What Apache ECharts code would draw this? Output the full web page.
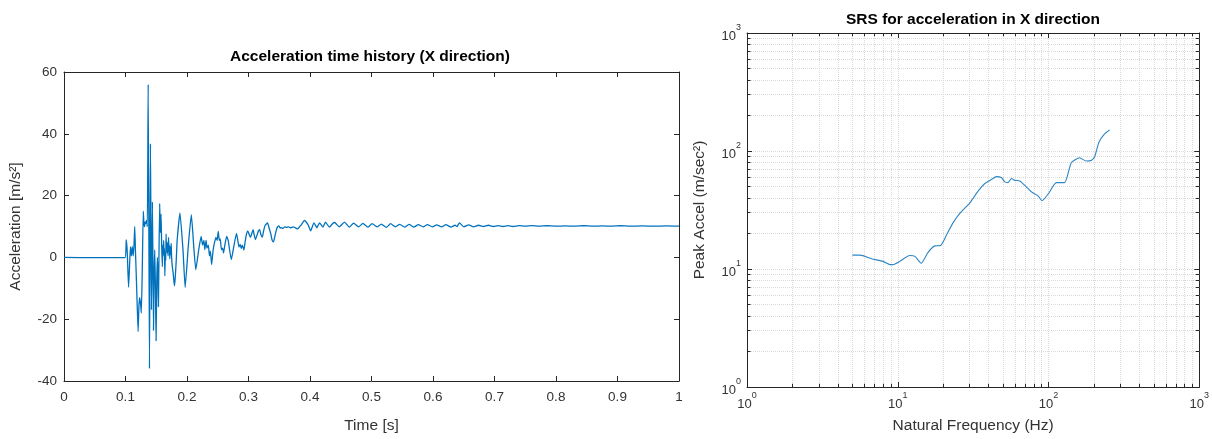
<!DOCTYPE html>
<html><head><meta charset="utf-8">
<script src="https://cdn.jsdelivr.net/npm/echarts@6/dist/echarts.min.js"></script>
<style>html,body{margin:0;padding:0;background:#fff}#c{width:1212px;height:439px}</style>
</head><body><div id="c"></div>
<script>
// ---- Left chart: acceleration time history (X direction) ----
const timeS = [
  0, 0.05, 0.099, 0.1012, 0.1025, 0.1035, 0.105, 0.1065, 0.108, 0.1095, 0.111, 0.1125, 0.1138, 0.115,
  0.1162, 0.117, 0.1185, 0.1205, 0.1218, 0.123, 0.1245, 0.1257, 0.1272, 0.1289, 0.130, 0.131, 0.132,
  0.133, 0.1343, 0.1355, 0.1369, 0.139, 0.1406, 0.1422, 0.1438, 0.1455, 0.1466, 0.1476, 0.1487, 0.1497,
  0.1508, 0.1519, 0.1527, 0.1535, 0.1545, 0.1556, 0.1565, 0.1578, 0.1588, 0.1599, 0.1607, 0.1613, 0.162,
  0.1627, 0.1633, 0.164, 0.1648, 0.1655, 0.166, 0.1667, 0.1673, 0.168, 0.1687, 0.1693, 0.170, 0.1707,
  0.1713, 0.172, 0.1728, 0.1735, 0.1743, 0.175, 0.176, 0.1775, 0.1795, 0.1807, 0.1825, 0.184, 0.1885,
  0.1935, 0.197, 0.202, 0.207, 0.211, 0.2143, 0.219, 0.223, 0.2253, 0.2275, 0.229, 0.231, 0.2325, 0.2347,
  0.2365, 0.238, 0.2401, 0.242, 0.2433, 0.245, 0.247, 0.249, 0.2508, 0.2525, 0.254, 0.256, 0.258, 0.2594,
  0.2615, 0.2645, 0.267, 0.272, 0.276, 0.2805, 0.283, 0.2845, 0.2865, 0.2882, 0.290, 0.2925, 0.2945,
  0.2968, 0.2989, 0.301, 0.3032, 0.305, 0.3075, 0.309, 0.3112, 0.3135, 0.316, 0.3182, 0.320, 0.3225,
  0.3245, 0.3267, 0.329, 0.331, 0.3335, 0.3363, 0.3385, 0.3406, 0.3425, 0.3449, 0.347, 0.3492, 0.3515,
  0.3535, 0.356, 0.359, 0.362, 0.365, 0.368, 0.3727, 0.376, 0.3797, 0.383, 0.3861, 0.3909, 0.3968,
  0.4011, 0.4064, 0.4112, 0.4155, 0.4209, 0.4251, 0.4316, 0.4369, 0.440, 0.4475, 0.456, 0.464, 0.471,
  0.479, 0.486, 0.494, 0.501, 0.509, 0.516, 0.524, 0.531, 0.539, 0.546, 0.554, 0.561, 0.569, 0.576,
  0.584, 0.591, 0.599, 0.606, 0.614, 0.621, 0.629, 0.636, 0.639, 0.643, 0.650, 0.658, 0.666, 0.674,
  0.682, 0.690, 0.698, 0.706, 0.714, 0.722, 0.730, 0.740, 0.750, 0.760, 0.772, 0.785, 0.800, 0.815,
  0.830, 0.845, 0.860, 0.875, 0.890, 0.905, 0.920, 0.940, 0.960, 0.980, 1.0
];
const accelX = [
  0, -0.1, -0.1, 5.7, 3, -2, -9.6, -3, 3.4, 0.5, 3.5, 0.5, 4, 10,
  2, -2.8, -12, -24, -16, -13, -15, -18, -5, 15, 11, 10, 11.5,
  11, 12, 10, 56, -36, 36.8, -17, 18, -23.6, -5, 2.4, -10, -27,
  -8, 0, -6, -16, 2, 17.5, 8, 14, 4, -3, 4, 0.5, 5.5,
  1, 3, -6, 2, -1, 7.6, 2, 5, 1.4, 4.5, 0.5, 6.5, 2,
  4, -0.5, 3.5, 1, 4.5, 0, -2.8, -5, -9.2, -7, -1, 5.5, 14.4,
  2.4, -9.7, 3.4, 13.8, 3.5, -4, 2.4, 6.8, 4, 5.5, 2.5, 5.5, 3, 4,
  0.5, 2, -2.3, 1.5, 3.4, 5, 6.5, 5.5, 8.4, 5.5, 6, 2.5, 3, 1.4,
  4, 6.8, 5.5, -0.7, 3.4, 7.8, 5, 3.4, 4.2, 2.9, 4, 2.4, 5,
  7.6, 8.6, 7.5, 6.5, 7.5, 9.0, 7.5, 5.8, 7, 8.5, 9, 7.5, 6.6,
  8.5, 10.2, 10.8, 11.2, 9.5, 7.6, 5.5, 5, 6.5, 8.6, 9.8, 10.2, 9.5,
  9.6, 9.4, 9.9, 9.7, 9.9, 9.6, 9.9, 9.6, 9.2, 9.9, 10.6, 12, 10.6,
  8.6, 11.2, 9.6, 11.2, 9.8, 11.4, 9.8, 11.0, 11.3, 9.9, 11.4, 9.8, 11.1,
  9.9, 11.0, 9.8, 10.9, 9.9, 10.8, 9.7, 10.9, 9.9, 10.7, 9.8, 10.7, 9.8, 10.6,
  9.9, 10.6, 9.9, 10.5, 9.9, 10.6, 9.8, 10.4, 10.0, 11.2, 9.9, 10.5, 9.9, 10.4,
  10.0, 10.4, 10.0, 10.3, 10.0, 10.3, 10.0, 10.3, 10.1, 10.3, 10.1, 10.25, 10.1, 10.2,
  10.1, 10.25, 10.1, 10.2, 10.1, 10.25, 10.1, 10.2, 10.1, 10.2, 10.1
];
const timeTicks = [0, 0.1, 0.2, 0.3, 0.4, 0.5, 0.6, 0.7, 0.8, 0.9, 1];
const accelTicks = [-40, -20, 0, 20, 40, 60];

// ---- Right chart: SRS ----
const srsFreqHz = [
  5.0, 5.63, 6.7, 8.0, 8.9, 9.3, 10.3, 12.0, 13.0, 14.3, 15.8, 17.6, 19.2, 21.1, 23.3, 25.8, 30.1,
  34.1, 37.8, 41.8, 45.1, 48.7, 51.3, 53.9, 56.7, 59.7, 64.4, 71.3, 76.9, 85.2, 90.5, 100, 112.6,
  127.9, 141.6, 160.8, 177.9, 192, 202, 216, 235.5, 254
];
const srsPeakAccel = [
  13.1, 13.1, 12.2, 11.6, 10.9, 10.9, 11.6, 13.0, 12.8, 11.2, 13.7, 15.7, 15.8, 19.5, 24.7, 29.6, 36.4,
  45.7, 53.0, 57.3, 60.7, 59.6, 54.7, 54.0, 58.4, 56.4, 55.7, 49.7, 45.1, 41.7, 37.9, 43.6, 54.0,
  54.0, 79.6, 87.6, 82.2, 83, 88.8, 118.8, 139.6, 150.7
];
const logMajorTicks = [1, 10, 100, 1000];
const logMinorValues = [2,3,4,5,6,7,8,9, 20,30,40,50,60,70,80,90, 200,300,400,500,600,700,800,900];

const FONT = "'Liberation Sans', Arial, Helvetica, sans-serif";
const AXC = '#262626';
const LBL = '#333333';
const LINE = '#0072BD';
const GRIDC = '#dadada';

function boxAxis(extra) {
  return Object.assign({
    axisLine: { show: true, onZero: false, lineStyle: { color: AXC, width: 1 } },
    axisTick: { show: true, inside: true, length: 5, lineStyle: { color: AXC } },
    axisLabel: { show: false },
    splitLine: { show: false },
    silent: true
  }, extra);
}
const supLabel = v => '{b|10}{s|' + Math.round(Math.log10(v)) + '}';
const supRich = {
  b: { fontSize: 13, color: LBL, fontFamily: FONT, lineHeight: 20, verticalAlign: 'bottom' },
  s: { fontSize: 9, color: LBL, fontFamily: FONT, lineHeight: 11, verticalAlign: 'top' }
};

// minor tick marks of the log box (short segments placed through the log scales)
const lo = logMajorTicks[0], hi = logMajorTicks[logMajorTicks.length - 1];
const tickX = 1.055, tickY = 1.065;
const minorTickSegs = [];
logMinorValues.forEach(v => {
  minorTickSegs.push([{ coord: [v, lo] }, { coord: [v, lo * tickY] }]);
  minorTickSegs.push([{ coord: [v, hi] }, { coord: [v, hi / tickY] }]);
  minorTickSegs.push([{ coord: [lo, v] }, { coord: [lo * tickX, v] }]);
  minorTickSegs.push([{ coord: [hi, v] }, { coord: [hi / tickX, v] }]);
});

const chart = echarts.init(document.getElementById('c'), null, { renderer: 'canvas' });
chart.setOption({
  animation: false,
  backgroundColor: '#fff',
  title: [
    { text: 'Acceleration time history (X direction)', left: 370, top: 49, textAlign: 'center', padding: 0,
      textStyle: { fontFamily: FONT, fontSize: 15.5, fontWeight: 'bold', color: '#000' } },
    { text: 'SRS for acceleration in X direction', left: 973, top: 12, textAlign: 'center', padding: 0,
      textStyle: { fontFamily: FONT, fontSize: 15.5, fontWeight: 'bold', color: '#000' } }
  ],
  grid: [
    { left: 61, top: 72, width: 618, height: 320, containLabel: false },
    { left: 747, top: 33, width: 453, height: 357, containLabel: false }
  ],
  xAxis: [
    boxAxis({ gridIndex: 0, type: 'value', position: 'bottom', min: timeTicks[0], max: timeTicks[timeTicks.length - 1], interval: 0.1,
      axisLabel: { show: true, fontFamily: FONT, fontSize: 13.5, color: LBL, margin: 9,
        formatter: v => String(Math.round(v * 10) / 10) },
      name: 'Time [s]', nameLocation: 'middle', nameGap: 37,
      nameTextStyle: { fontFamily: FONT, fontSize: 15.5, color: LBL } }),
    boxAxis({ gridIndex: 0, type: 'value', position: 'top', min: 0, max: 1, interval: 0.1 }),
    boxAxis({ gridIndex: 1, type: 'log', logBase: 10, position: 'bottom', min: lo, max: hi,
      axisLabel: { show: true, formatter: supLabel, rich: supRich, margin: 4 },
      splitLine: { show: true, lineStyle: { color: GRIDC, type: 'dotted', width: 1 } },
      name: 'Natural Frequency (Hz)', nameLocation: 'middle', nameGap: 31,
      nameTextStyle: { fontFamily: FONT, fontSize: 15.5, color: LBL } }),
    boxAxis({ gridIndex: 1, type: 'log', logBase: 10, position: 'top', min: lo, max: hi })
  ],
  yAxis: [
    boxAxis({ gridIndex: 0, type: 'value', position: 'left', min: accelTicks[0], max: accelTicks[accelTicks.length - 1], interval: 20,
      axisLabel: { show: true, fontFamily: FONT, fontSize: 13.5, color: LBL, margin: 7 },
      name: 'Acceleration [m/s²]', nameLocation: 'middle', nameGap: 40,
      nameTextStyle: { fontFamily: FONT, fontSize: 15.5, color: LBL } }),
    boxAxis({ gridIndex: 0, type: 'value', position: 'right', min: -40, max: 60, interval: 20 }),
    boxAxis({ gridIndex: 1, type: 'log', logBase: 10, position: 'left', min: lo, max: hi,
      axisLabel: { show: true, formatter: supLabel, rich: supRich, margin: 6 },
      splitLine: { show: true, lineStyle: { color: GRIDC, type: 'dotted', width: 1 } },
      name: 'Peak Accel (m/sec²)', nameLocation: 'middle', nameGap: 39,
      nameTextStyle: { fontFamily: FONT, fontSize: 15.5, color: LBL } }),
    boxAxis({ gridIndex: 1, type: 'log', logBase: 10, position: 'right', min: lo, max: hi })
  ],
  series: [
    { type: 'line', xAxisIndex: 0, yAxisIndex: 0, showSymbol: false, symbol: 'none', smooth: 0.15,
      data: timeS.map((t, i) => [t, accelX[i]]),
      lineStyle: { color: LINE, width: 1.3 }, silent: true },
    { type: 'line', xAxisIndex: 2, yAxisIndex: 2, showSymbol: false, symbol: 'none', z: 5, smooth: 0.2,
      data: srsFreqHz.map((f, i) => [f, srsPeakAccel[i]]),
      lineStyle: { color: '#2f86c4', width: 1.1 }, silent: true,
      markLine: { silent: true, symbol: 'none', label: { show: false }, z: 1,
        lineStyle: { color: GRIDC, type: 'dotted', width: 1 },
        data: logMinorValues.map(v => ({ xAxis: v })).concat(logMinorValues.map(v => ({ yAxis: v }))) } },
    { type: 'line', xAxisIndex: 2, yAxisIndex: 2, data: [], silent: true,
      markLine: { silent: true, symbol: 'none', label: { show: false }, z: 6, animation: false,
        lineStyle: { color: AXC, type: 'solid', width: 1 }, emphasis: { disabled: true },
        data: minorTickSegs } }
  ]
});
</script></body></html>
